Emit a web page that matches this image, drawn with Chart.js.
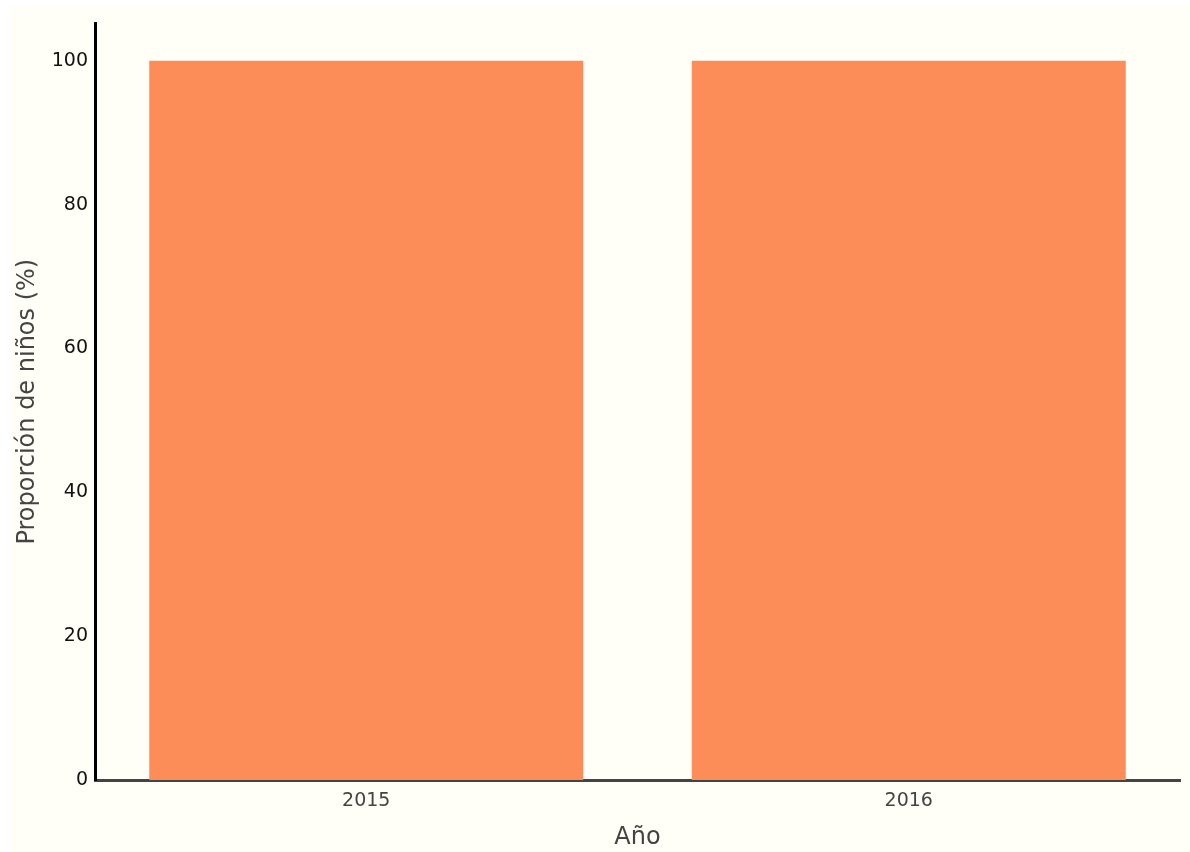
<!DOCTYPE html>
<html>
<head>
<meta charset="utf-8">
<script src="https://cdn.jsdelivr.net/npm/chart.js@4.4.0/dist/chart.umd.min.js"></script>
<style>
  body { margin: 0; background: #ffffff; }
  #wrap { position: absolute; left: 10px; top: 5px; width: 1180px; height: 847px; background: #fffff7; }
</style>
</head>
<body>
<div id="wrap"><canvas id="bar-chart"></canvas></div>
<script>
// data
const years = ['2015', '2016'];
const proporcion = [100, 100];
const yTicks = [0, 20, 40, 60, 80, 100];

const font = "'DejaVu Sans', Verdana, sans-serif";

new Chart(document.getElementById('bar-chart').getContext('2d'), {
  type: 'bar',
  data: {
    labels: years,
    datasets: [{
      label: 'Proporción',
      data: proporcion,
      backgroundColor: '#fc8d59',
      barPercentage: 0.8,
      categoryPercentage: 1.0
    }]
  },
  options: {
    responsive: true,
    maintainAspectRatio: false,
    animation: false,
    layout: { padding: { top: 17, right: 10, left: 0, bottom: 0 } },
    plugins: { legend: { display: false }, tooltip: { enabled: false } },
    scales: {
      x: {
        grid: { display: false, drawTicks: false },
        border: { display: true, color: '#444444', width: 3 },
        ticks: { color: '#444444', font: { family: font, size: 19 }, padding: 10 },
        title: { display: true, text: 'Año', color: '#444444', font: { family: font, size: 24 }, padding: { top: 0, bottom: 0 } },
        afterFit: function(scale) { scale.height = 72; }
      },
      y: {
        min: 0,
        max: 105.2,
        afterBuildTicks: function(scale) { scale.ticks = yTicks.map(v => ({ value: v })); },
        grid: { display: false, drawTicks: false },
        border: { display: true, color: '#000000', width: 3 },
        ticks: { color: '#111111', font: { family: font, size: 19 }, padding: 7 },
        title: { display: true, text: 'Proporción de niños (%)', color: '#444444', font: { family: font, size: 24 }, padding: { top: 3, bottom: 0 } },
        afterFit: function(scale) { scale.width = 85; }
      }
    }
  }
});
</script>
</body>
</html>
